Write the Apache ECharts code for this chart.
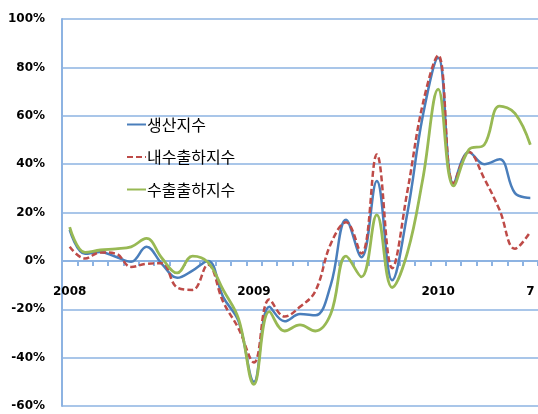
<!DOCTYPE html>
<html>
<head>
<meta charset="utf-8">
<script src="https://cdn.jsdelivr.net/npm/echarts@6/dist/echarts.min.js"></script>
<style>
  html, body { margin: 0; padding: 0; background: #fff; }
  #chart { width: 538px; height: 414px; }
</style>
</head>
<body>
<div id="chart"></div>
<script>
// Monthly periods, Jan 2008 – Jul 2010
const months = [
  '2008.01','2008.02','2008.03','2008.04','2008.05','2008.06','2008.07','2008.08','2008.09','2008.10','2008.11','2008.12',
  '2009.01','2009.02','2009.03','2009.04','2009.05','2009.06','2009.07','2009.08','2009.09','2009.10','2009.11','2009.12',
  '2010.01','2010.02','2010.03','2010.04','2010.05','2010.06','2010.07'
];

// Text shown under the category axis (blank = no label)
const xTickLabels = [
  '2008','','','','','','','','','','','',
  '2009','','','','','','','','','','','',
  '2010','','','','','','7'
];

// Year-on-year change, %
const production = [
  12.8, 2.9, 3.7, 1.7, -0.4, 5.8, -1.2, -7, -4, 0, -15, -25,
  -50, -19, -25, -22, -22.5, -10, 17, 1.5, 33, -8, 20, 60,
  84, 32, 45, 40, 42, 28, 26
];
const domestic = [
  5.8, 1, 3.5, 3, -2.5, -1.2, -1, -11, -12, -1.5, -17, -28,
  -42, -16, -23, -19, -12.5, 7, 16, 3, 44, -3, 29, 65,
  85, 32, 45, 34, 21, 5, 12
];
const exportShip = [
  14, 3.5, 4.5, 5, 5.8, 9.3, 1.2, -5, 2, -0.5, -12, -24,
  -51, -21, -29, -26.5, -29, -22, 2, -6.6, 19, -11, 3.5, 34,
  71, 31, 46, 48, 64, 61, 48
];

const seriesNames = ['생산지수', '내수출하지수', '수출출하지수'];
const yTicks = { min: -60, max: 100, step: 20 };

const gridColor = '#8DB3E2';
const gridBox = { left: 62, right: 0, top: 19, bottom: 8 };
const chart = echarts.init(document.getElementById('chart'), null, { renderer: 'canvas' });

chart.setOption({
  animation: false,
  backgroundColor: '#fff',
  grid: Object.assign({ containLabel: false, outerBoundsMode: 'none' }, gridBox),
  legend: {
    orient: 'vertical',
    left: 126,
    top: 116.5,
    padding: 0,
    itemWidth: 19,
    itemHeight: 4,
    itemGap: 16.5,
    itemStyle: { opacity: 0, borderWidth: 0 },
    textStyle: { fontFamily: 'Noto Sans CJK KR', fontSize: 16, color: '#000', padding: [0, 0, 0, -4] },
    data: seriesNames
  },
  xAxis: {
    type: 'category',
    data: months,
    boundaryGap: true,
    position: 'bottom',
    axisLine: { onZero: false, lineStyle: { color: gridColor, width: 2 } },
    axisTick: { show: true, interval: 0, length: 5, lineStyle: { color: gridColor, width: 2 } },
    axisLabel: {
      interval: 0,
      margin: 25,
      formatter: (v, i) => xTickLabels[i],
      fontFamily: 'DejaVu Sans',
      fontWeight: 'bold',
      fontSize: 12,
      color: '#000'
    },
    splitLine: { show: false }
  },
  yAxis: {
    type: 'value',
    min: yTicks.min,
    max: yTicks.max,
    interval: yTicks.step,
    axisLine: { show: true, lineStyle: { color: gridColor, width: 2 } },
    axisTick: { show: false },
    axisLabel: {
      margin: 17,
      formatter: v => v + '%',
      fontFamily: 'DejaVu Sans',
      fontWeight: 'bold',
      fontSize: 12,
      color: '#000'
    },
    splitLine: { show: true, lineStyle: { color: gridColor, width: 1.5 } }
  },
  series: [
    {
      name: seriesNames[0], type: 'line', data: production, smooth: 0.4,
      symbol: 'none', color: '#4A7EBB',
      lineStyle: { width: 2.5, color: '#4A7EBB' }
    },
    {
      name: seriesNames[1], type: 'line', data: domestic, smooth: 0.4,
      symbol: 'none', color: '#BE4B48',
      lineStyle: { width: 2.5, color: '#BE4B48', type: [6, 3] }
    },
    {
      name: seriesNames[2], type: 'line', data: exportShip, smooth: 0.4,
      symbol: 'none', color: '#98B954',
      lineStyle: { width: 2.8, color: '#98B954' }
    }
  ]
});

// Lift the category axis (line, ticks and labels) up to the 0% level
const zeroY = chart.convertToPixel({ yAxisIndex: 0 }, 0);
const gridBottomY = chart.getHeight() - gridBox.bottom;
chart.setOption({ xAxis: { offset: zeroY - gridBottomY } });
</script>
</body>
</html>
